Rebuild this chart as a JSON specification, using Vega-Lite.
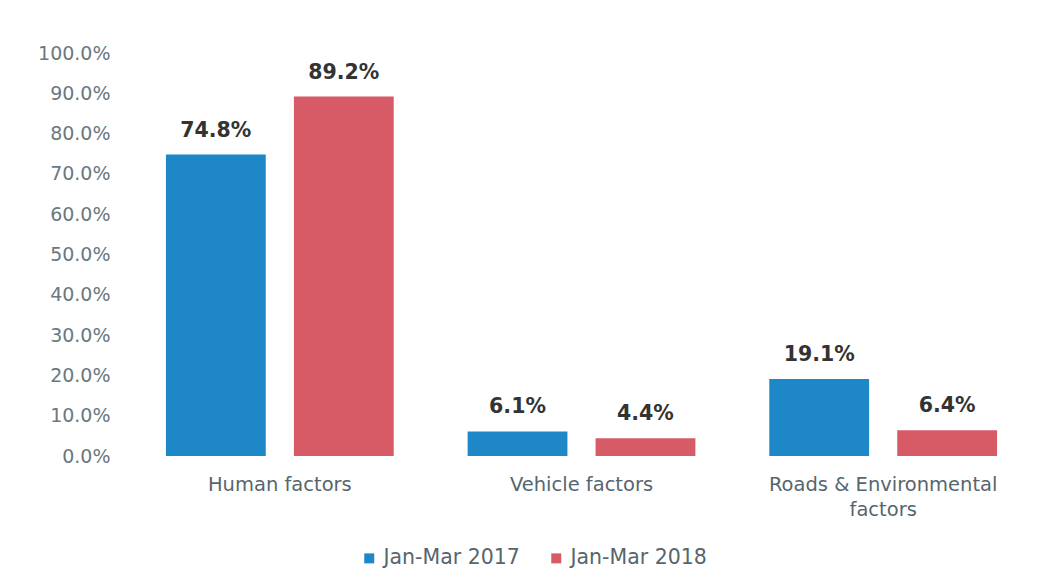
{
  "$schema": "https://vega.github.io/schema/vega-lite/v6.json",
  "width": 905,
  "height": 403,
  "padding": {"left": 37, "top": 44, "right": 10, "bottom": 10},
  "background": "white",
  "config": {
    "font": "DejaVu Sans",
    "view": {"stroke": null}
  },
  "data": {
    "values": [
      {"factor": "Human factors", "period": "Jan-Mar 2017", "value": 0.748},
      {"factor": "Human factors", "period": "Jan-Mar 2018", "value": 0.892},
      {"factor": "Vehicle factors", "period": "Jan-Mar 2017", "value": 0.061},
      {"factor": "Vehicle factors", "period": "Jan-Mar 2018", "value": 0.044},
      {"factor": "Roads & Environmental factors", "period": "Jan-Mar 2017", "value": 0.191},
      {"factor": "Roads & Environmental factors", "period": "Jan-Mar 2018", "value": 0.064}
    ]
  },
  "encoding": {
    "x": {
      "field": "factor",
      "type": "nominal",
      "sort": null,
      "scale": {"paddingInner": 0.245, "paddingOuter": 0.1225},
      "axis": {
        "title": null,
        "labelAngle": 0,
        "domain": false,
        "ticks": false,
        "labelPadding": 19,
        "labelFontSize": 19.5,
        "labelColor": "#56666e",
        "labelLineHeight": 25,
        "labelLimit": 400,
        "labelExpr": "datum.label == 'Roads & Environmental factors' ? ['Roads & Environmental', 'factors'] : datum.label"
      }
    },
    "xOffset": {"field": "period", "type": "nominal", "scale": {"paddingInner": 0.22, "paddingOuter": 0}},
    "y": {
      "field": "value",
      "type": "quantitative",
      "scale": {"domain": [0, 1]},
      "axis": {
        "title": null,
        "format": ".1%",
        "values": [0, 0.1, 0.2, 0.3, 0.4, 0.5, 0.6, 0.7, 0.8, 0.9, 1.0],
        "labelOverlap": false,
        "grid": false,
        "domain": false,
        "ticks": false,
        "labelPadding": 19,
        "labelFontSize": 19,
        "labelColor": "#6a7880"
      }
    }
  },
  "layer": [
    {
      "mark": {"type": "bar"},
      "encoding": {
        "color": {
          "field": "period",
          "type": "nominal",
          "scale": {"domain": ["Jan-Mar 2017", "Jan-Mar 2018"], "range": ["#1e87c8", "#d65b67"]},
          "legend": {
            "title": null,
            "orient": "none",
            "direction": "horizontal",
            "legendX": 230,
            "legendY": 495,
            "symbolType": "square",
            "symbolSize": 100,
            "symbolStrokeWidth": 0,
            "labelFontSize": 20.5,
            "labelColor": "#56666e",
            "columnPadding": 26,
            "labelOffset": 4
          }
        }
      }
    },
    {
      "mark": {"type": "text", "baseline": "bottom", "dy": -14, "fontSize": 20.5, "fontWeight": "bold", "color": "#333333"},
      "encoding": {
        "text": {"field": "value", "type": "quantitative", "format": ".1%"}
      }
    }
  ]
}
